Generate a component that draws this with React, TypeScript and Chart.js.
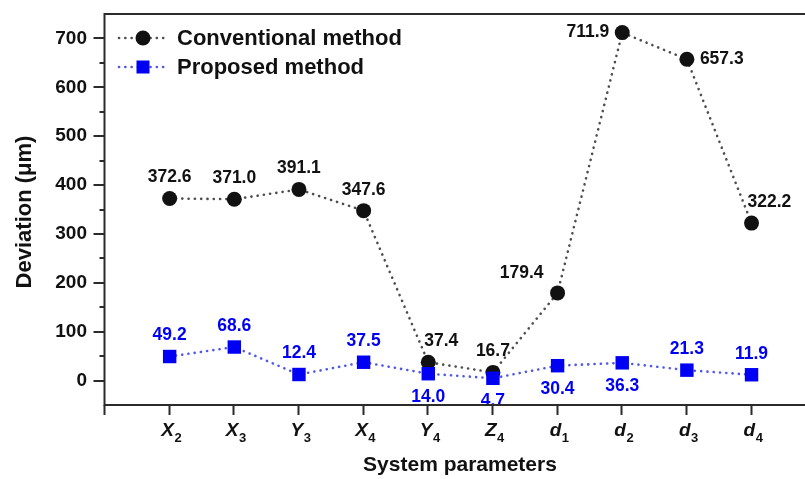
import React, { useEffect, useRef } from 'react';
import { Chart, registerables } from 'chart.js';

Chart.register(...registerables);

// Parameter symbols and their subscripts (x axis categories)
const paramSymbols = ['X', 'X', 'Y', 'X', 'Y', 'Z', 'd', 'd', 'd', 'd'];
const paramSubscripts = ['2', '3', '3', '4', '4', '4', '1', '2', '3', '4'];

// Deviation in micrometres
const conventional = [372.6, 371.0, 391.1, 347.6, 37.4, 16.7, 179.4, 711.9, 657.3, 322.2];
const proposed = [49.2, 68.6, 12.4, 37.5, 14.0, 4.7, 30.4, 36.3, 21.3, 11.9];

// Which side of each marker its value label sits on
const conventionalLabelSide = ['top', 'top', 'top', 'top', 'topRight', 'top', 'topLeft', 'left', 'right', 'topRight'];
const proposedLabelSide = ['top', 'top', 'top', 'top', 'bottom', 'bottom', 'bottom', 'bottom', 'top', 'top'];

const seriesNames = ['Conventional method', 'Proposed method'];
const xTitle = 'System parameters';
const yTitle = 'Deviation (\u03bcm)';

const FONT = '"Liberation Sans", Arial, Helvetica, sans-serif';
const BLACK = '#111111';
const BLUE = '#0000f5';
const AXIS = '#2b2b2b';

function drawValueLabel(ctx: CanvasRenderingContext2D, px: number, py: number, text: string, side: string) {
  let x = px;
  let y = py;
  let align: CanvasTextAlign = 'center';
  switch (side) {
    case 'top':
      y = py - 21;
      break;
    case 'bottom':
      y = py + 23;
      break;
    case 'left':
      x = px - 13;
      align = 'right';
      break;
    case 'right':
      x = px + 13;
      align = 'left';
      break;
    case 'topRight':
      x = px - 4;
      y = py - 21;
      align = 'left';
      break;
    case 'topLeft':
      x = px - 14;
      y = py - 20;
      align = 'right';
      break;
  }
  ctx.textAlign = align;
  ctx.textBaseline = 'middle';
  ctx.fillText(text, x, y);
}

const decorPlugin = {
  id: 'decor',
  afterDatasetsDraw(chart: any) {
    const { ctx, scales } = chart;
    const x = scales.x;
    const y = scales.y;
    ctx.save();
    ctx.font = `bold 17.5px ${FONT}`;
    const metas = [
      { values: conventional, sides: conventionalLabelSide, color: BLACK },
      { values: proposed, sides: proposedLabelSide, color: BLUE },
    ];
    metas.forEach((m) => {
      ctx.fillStyle = m.color;
      m.values.forEach((v, i) => {
        drawValueLabel(ctx, x.getPixelForValue(i), y.getPixelForValue(v), v.toFixed(1), m.sides[i]);
      });
    });
    ctx.restore();
  },
  afterDraw(chart: any) {
    const { ctx, chartArea: a, scales } = chart;
    const x = scales.x;
    const y = scales.y;
    const right = chart.width;
    ctx.save();

    // frame: left axis, bottom axis, top border (running to the canvas edge)
    ctx.strokeStyle = AXIS;
    ctx.lineWidth = 2;
    ctx.beginPath();
    ctx.moveTo(a.left - 0.5, a.top - 1);
    ctx.lineTo(a.left - 0.5, a.bottom);
    ctx.lineTo(right, a.bottom);
    ctx.moveTo(a.left - 1.5, a.top);
    ctx.lineTo(right, a.top);
    ctx.stroke();

    // y tick marks (major every 100, minor every 50)
    ctx.beginPath();
    y.ticks.forEach((t: any) => {
      const v = t.value;
      if (v <= y.min || v >= y.max) return;
      const py = Math.round(y.getPixelForValue(v));
      const len = v % 100 === 0 ? 11 : 5;
      ctx.moveTo(a.left - 0.5 - len, py);
      ctx.lineTo(a.left - 0.5, py);
    });
    // x tick marks
    x.ticks.forEach((t: any) => {
      const px = Math.round(x.getPixelForValue(t.value)) - 0.5;
      ctx.moveTo(px, a.bottom);
      ctx.lineTo(px, a.bottom + 10);
    });
    ctx.stroke();

    // x category labels with subscripts
    ctx.fillStyle = BLACK;
    ctx.textBaseline = 'alphabetic';
    ctx.textAlign = 'left';
    paramSymbols.forEach((s, i) => {
      const px = x.getPixelForValue(i);
      const mainFont = `italic bold 19px ${FONT}`;
      const subFont = `bold 13px ${FONT}`;
      ctx.font = mainFont;
      const wMain = ctx.measureText(s).width;
      ctx.font = subFont;
      const wSub = ctx.measureText(paramSubscripts[i]).width;
      const start = px + 1.5 - (wMain + wSub) / 2;
      ctx.font = mainFont;
      ctx.fillText(s, start, 436);
      ctx.font = subFont;
      ctx.fillText(paramSubscripts[i], start + wMain + 0.5, 442);
    });

    // axis titles
    ctx.font = `bold 21px ${FONT}`;
    ctx.textAlign = 'center';
    ctx.textBaseline = 'middle';
    ctx.fillText(xTitle, 460, 465);

    ctx.save();
    ctx.translate(25, 212);
    ctx.rotate(-Math.PI / 2);
    ctx.font = `bold 22px ${FONT}`;
    ctx.fillText(yTitle, 0, 0);
    ctx.restore();

    // legend
    const legendRows = [
      { name: seriesNames[0], y: 38, line: '#4d4d4d', fill: BLACK, shape: 'circle' },
      { name: seriesNames[1], y: 67, line: '#5058ea', fill: BLUE, shape: 'rect' },
    ];
    legendRows.forEach((r) => {
      ctx.save();
      ctx.strokeStyle = r.line;
      ctx.lineWidth = 2.6;
      ctx.lineCap = 'round';
      ctx.setLineDash([0.1, 6.2]);
      ctx.beginPath();
      ctx.moveTo(119, r.y);
      ctx.lineTo(169, r.y);
      ctx.stroke();
      ctx.restore();
      ctx.fillStyle = r.fill;
      ctx.beginPath();
      if (r.shape === 'circle') {
        ctx.arc(143, r.y, 7.5, 0, Math.PI * 2);
      } else {
        ctx.rect(136.5, r.y - 6.5, 13, 13);
      }
      ctx.fill();
      ctx.fillStyle = BLACK;
      ctx.font = `bold 22px ${FONT}`;
      ctx.textAlign = 'left';
      ctx.textBaseline = 'middle';
      ctx.fillText(r.name, 177, r.y + 1);
    });

    ctx.restore();
  },
};

export default function App() {
  const canvasRef = useRef<HTMLCanvasElement | null>(null);

  useEffect(() => {
    const canvas = canvasRef.current;
    if (!canvas) return;
    const chart = new Chart(canvas, {
      type: 'line',
      data: {
        datasets: [
          {
            label: seriesNames[0],
            data: conventional.map((v, i) => ({ x: i, y: v })),
            borderColor: '#4d4d4d',
            borderWidth: 2.6,
            borderDash: [0.1, 6.2],
            borderCapStyle: 'round',
            pointStyle: 'circle',
            pointRadius: 7.5,
            pointBackgroundColor: BLACK,
            pointBorderColor: BLACK,
            pointBorderWidth: 0,
            order: 1,
          },
          {
            label: seriesNames[1],
            data: proposed.map((v, i) => ({ x: i, y: v })),
            borderColor: '#5058ea',
            borderWidth: 2.6,
            borderDash: [0.1, 6.2],
            borderCapStyle: 'round',
            pointStyle: 'rect',
            pointRadius: 9.5,
            pointBackgroundColor: BLUE,
            pointBorderColor: BLUE,
            pointBorderWidth: 0,
            order: 0,
          },
        ],
      },
      options: {
        responsive: false,
        animation: false,
        events: [],
        clip: false,
        layout: { padding: { top: 14, right: 0, left: 0, bottom: 0 } },
        plugins: {
          legend: { display: false },
          tooltip: { enabled: false },
        },
        scales: {
          x: {
            type: 'linear',
            min: -1,
            max: 9.68,
            grid: { display: false, drawTicks: false },
            border: { display: false },
            ticks: { display: false },
            afterBuildTicks: (s: any) => {
              s.ticks = [-1, ...paramSymbols.map((_, i) => i)].map((value) => ({ value }));
            },
            afterFit: (s: any) => {
              s.height = 74;
              s.paddingLeft = 0;
              s.paddingRight = 0;
              s.paddingTop = 0;
              s.paddingBottom = 0;
            },
          },
          y: {
            min: -50,
            max: 750,
            grid: { display: false, drawTicks: false },
            border: { display: false },
            ticks: {
              stepSize: 50,
              maxTicksLimit: 100,
              autoSkip: false,
              padding: 18,
              color: BLACK,
              font: { family: FONT, size: 19, weight: 'bold' },
              callback: (v: any) => (v % 100 === 0 && v >= 0 && v <= 700 ? String(v) : ''),
            },
            afterFit: (s: any) => {
              s.width = 105;
              s.paddingLeft = 0;
              s.paddingRight = 0;
              s.paddingTop = 0;
              s.paddingBottom = 0;
            },
          },
        },
      },
      plugins: [decorPlugin],
    } as any);
    return () => chart.destroy();
  }, []);

  return (
    <div style={{ position: 'fixed', left: 0, top: 0, width: 805, height: 479, background: '#ffffff' }}>
      <canvas ref={canvasRef} width={805} height={479} style={{ display: 'block' }} />
    </div>
  );
}
